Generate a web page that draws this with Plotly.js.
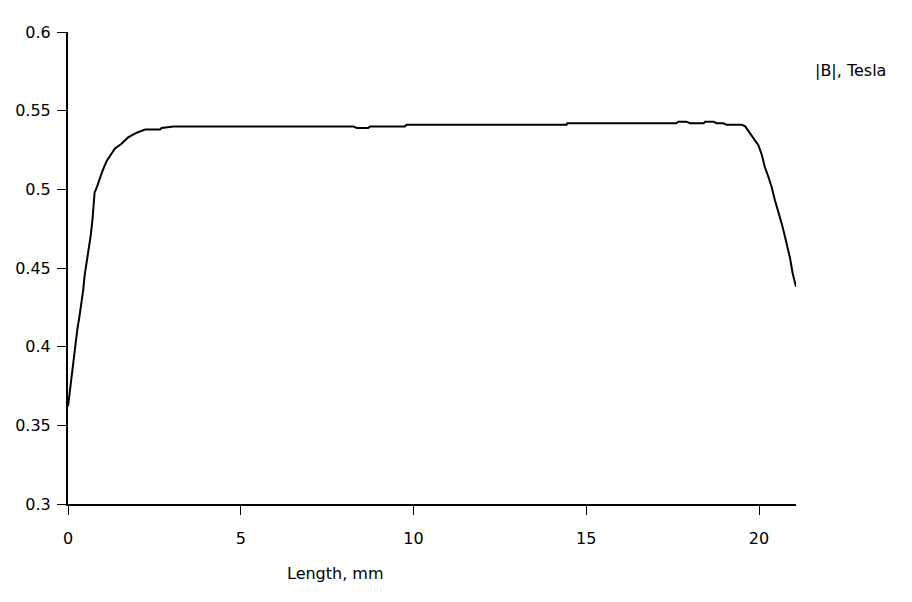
<!DOCTYPE html>
<html>
<head>
<meta charset="utf-8">
<script src="https://cdn.plot.ly/plotly-3.0.1.min.js"></script>
<style>html,body{margin:0;padding:0;background:#fff;}#chart{width:912px;height:602px;}</style>
</head>
<body>
<div id="chart"></div>
<script>
const lengthMm = [0.0, 0.07, 0.12, 0.17, 0.21, 0.27, 0.33, 0.39, 0.44, 0.48, 0.54, 0.60, 0.66, 0.71, 0.77, 0.83, 0.90, 0.97, 1.04, 1.12, 1.21, 1.36, 1.55, 1.74, 1.99, 2.23, 2.66, 2.71, 3.05, 8.25, 8.36, 8.69, 8.74, 9.75, 9.80, 14.43, 14.45, 17.60, 17.67, 17.90, 18.00, 18.40, 18.44, 18.68, 18.77, 18.97, 19.06, 19.50, 19.60, 19.74, 19.86, 19.98, 20.08, 20.17, 20.27, 20.37, 20.46, 20.56, 20.66, 20.75, 20.82, 20.90, 20.97, 21.07];
const bTesla = [0.362, 0.375, 0.383, 0.392, 0.401, 0.411, 0.419, 0.427, 0.436, 0.445, 0.453, 0.461, 0.471, 0.481, 0.498, 0.501, 0.506, 0.510, 0.514, 0.518, 0.521, 0.526, 0.529, 0.533, 0.536, 0.538, 0.538, 0.539, 0.540, 0.540, 0.539, 0.539, 0.540, 0.540, 0.541, 0.541, 0.542, 0.542, 0.543, 0.543, 0.542, 0.542, 0.543, 0.543, 0.542, 0.542, 0.541, 0.541, 0.540, 0.5356, 0.5324, 0.528, 0.522, 0.514, 0.508, 0.501, 0.493, 0.486, 0.478, 0.470, 0.4635, 0.456, 0.447, 0.438];
const xTicks = [0, 5, 10, 15, 20];
const yTicks = [0.3, 0.35, 0.4, 0.45, 0.5, 0.55, 0.6];
const yTickText = ['0.3', '0.35', '0.4', '0.45', '0.5', '0.55', '0.6'];
const seriesName = '|B|, Tesla';
const xTitle = 'Length, mm';

const font = {family: 'DejaVu Sans, Verdana, sans-serif', size: 16, color: '#000'};

Plotly.newPlot('chart', [{
  x: lengthMm, y: bTesla, type: 'scatter', mode: 'lines',
  line: {color: '#000', width: 2}, name: seriesName, showlegend: false
}], {
  width: 912, height: 602,
  margin: {l: 68, r: 116, t: 32, b: 98},
  paper_bgcolor: '#fff', plot_bgcolor: '#fff',
  font: font,
  xaxis: {
    range: [0, 21.07], tickvals: xTicks, ticktext: xTicks.map(String),
    showgrid: false, zeroline: false, showline: true, linecolor: '#000', linewidth: 2,
    ticks: 'outside', ticklen: 9, tickwidth: 1, tickcolor: '#000',
    ticklabelstandoff: 10, tickfont: font
  },
  yaxis: {
    range: [0.3, 0.6], tickvals: yTicks, ticktext: yTickText,
    showgrid: false, zeroline: false, showline: true, linecolor: '#000', linewidth: 2,
    ticks: 'outside', ticklen: 9, tickwidth: 1, tickcolor: '#000',
    ticklabelstandoff: 3, tickfont: font
  },
  annotations: [
    {text: seriesName, xref: 'paper', yref: 'paper', x: 1.024, y: (602 - 98 - 70) / 472, xanchor: 'left', yanchor: 'middle', showarrow: false, font: font},
    {text: xTitle, xref: 'paper', yref: 'paper', x: (335 - 68) / 728, y: -(573 - 504) / 472, xanchor: 'center', yanchor: 'middle', showarrow: false, font: font}
  ]
}, {displayModeBar: false, staticPlot: true});
</script>
</body>
</html>
